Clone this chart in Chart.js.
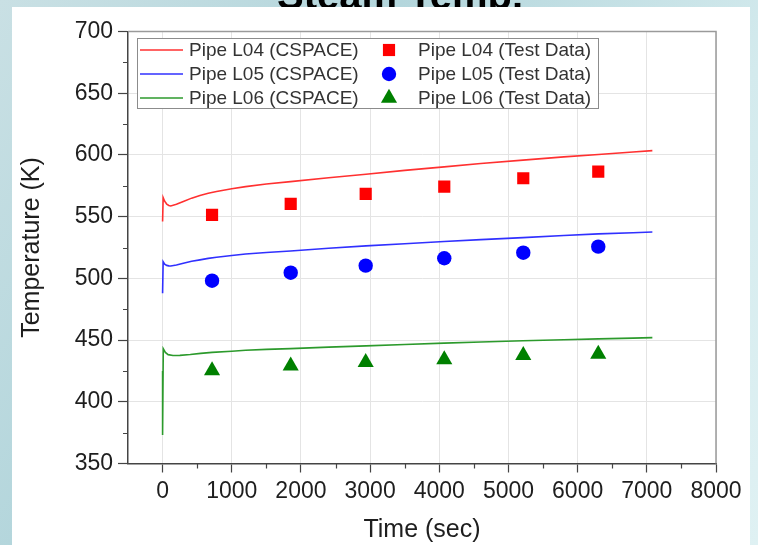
<!DOCTYPE html>
<html>
<head>
<meta charset="utf-8">
<title>Steam Temp.</title>
<script src="https://cdn.jsdelivr.net/npm/chart.js"></script>
<style>
  html, body { margin: 0; padding: 0; background: #cfe6ea; }
  body { width: 758px; height: 545px; overflow: hidden; }
  canvas { display: block; }
</style>
</head>
<body>
<canvas id="steamChart" width="758" height="545"></canvas>
<script>
// CSPACE results (time in s, temperature in K)
const curveTime = [0, 8, 30, 60, 90, 118, 200, 300, 420, 540, 660, 780, 1000, 1200, 1500, 1850, 2400, 2940, 3500, 4070, 4600, 5210, 5800, 6300, 6800, 7080];
const l04Temp = [546, 565.5, 562.5, 560.2, 559.1, 558.7, 560, 562.3, 565, 567.2, 569, 570.4, 572.6, 574.3, 576.5, 578.4, 581.5, 584.4, 587.5, 590.3, 593, 595.8, 598.4, 600.4, 602.4, 603.5];
const l05Temp = [488, 513.5, 511.5, 510.5, 510.1, 510, 510.8, 512.2, 513.8, 515, 516.2, 517.1, 518.5, 519.7, 521, 522.2, 524.4, 526.3, 528.1, 529.8, 531.4, 533, 534.7, 536, 537, 537.5];

const l06Time = [0, 0, 10, 40, 80, 150, 250, 400, 550, 715, 1000, 1200, 1500, 1850, 2400, 2940, 3500, 4070, 4600, 5210, 5800, 6300, 6800, 7080];
const l06Temp = [425, 373, 443, 440, 438.2, 437.5, 437.6, 438.3, 439.2, 440, 441, 441.8, 442.5, 443.1, 444.3, 445.3, 446.4, 447.5, 448.4, 449.4, 450.3, 451, 451.6, 452];

// test data
const testTime = [715, 1852, 2936, 4072, 5214, 6298];
const l04Test = [551.4, 560.3, 568.4, 574.3, 581.1, 586.5];
const l05Test = [498.1, 504.6, 510.3, 516.3, 520.8, 525.7];
const l06Test = [425.3, 429.2, 432, 434.2, 437.7, 438.6];

// ticks
const xTicks = [0, 1000, 2000, 3000, 4000, 5000, 6000, 7000, 8000];
const xMinor = [500, 1500, 2500, 3500, 4500, 5500, 6500, 7500];
const yMinor = [375, 425, 475, 525, 575, 625, 675];

const FONT = '"Liberation Sans", Arial, sans-serif';
const TEXT = '#1e1e1e';

function pts(xs, ys) {
    return xs.map((x, i) => ({ x: x, y: ys[i] }));
}

/* ---------- slide background + white panel ---------- */
const slideBackground = {
    id: 'slideBackground',
    beforeDraw(chart) {
        const ctx = chart.ctx;
        ctx.save();
        const g = ctx.createLinearGradient(0, 0, chart.width, chart.height);
        g.addColorStop(0, '#c9e0e4');
        g.addColorStop(0.35, '#b4d6dc');
        g.addColorStop(0.7, '#d3eaed');
        g.addColorStop(1, '#dff1f3');
        ctx.fillStyle = g;
        ctx.fillRect(0, 0, chart.width, chart.height);

        // slide title, mostly hidden behind the panel
        ctx.fillStyle = '#000';
        ctx.font = 'bold 40px ' + FONT;
        ctx.textAlign = 'center';
        ctx.textBaseline = 'alphabetic';
        ctx.fillText('Steam Temp.', 400, 9);

        ctx.fillStyle = '#ffffff';
        ctx.fillRect(12, 7, 738, chart.height - 7);
        ctx.restore();
    }
};

/* ---------- frame + minor ticks ---------- */
const frameAndMinor = {
    id: 'frameAndMinor',
    afterDraw(chart) {
        const ctx = chart.ctx;
        const ca = chart.chartArea;
        const xs = chart.scales.x;
        const ys = chart.scales.y;
        ctx.save();

        ctx.strokeStyle = '#9a9a9a';
        ctx.lineWidth = 1.5;
        ctx.beginPath();
        ctx.moveTo(ca.left, ca.top);
        ctx.lineTo(ca.right, ca.top);
        ctx.lineTo(ca.right, ca.bottom);
        ctx.stroke();

        ctx.strokeStyle = '#444';
        ctx.lineWidth = 1.2;
        ctx.beginPath();
        xMinor.forEach(v => {
            const px = Math.round(xs.getPixelForValue(v)) + 0.5;
            ctx.moveTo(px, ca.bottom);
            ctx.lineTo(px, ca.bottom + 5);
        });
        yMinor.forEach(v => {
            const py = Math.round(ys.getPixelForValue(v)) + 0.5;
            ctx.moveTo(ca.left, py);
            ctx.lineTo(ca.left - 5, py);
        });
        ctx.stroke();
        ctx.restore();
    }
};

/* ---------- boxed legend inside plot ---------- */
function drawMarker(ctx, style, r, x, y) {
    if (Chart.helpers && Chart.helpers.drawPoint) {
        Chart.helpers.drawPoint(ctx, { pointStyle: style, radius: r, rotation: 0, borderWidth: 0 }, x, y);
        return;
    }
    ctx.beginPath();
    if (style === 'rect') {
        const s = r * Math.SQRT1_2;
        ctx.rect(x - s, y - s, 2 * s, 2 * s);
    } else if (style === 'triangle') {
        ctx.moveTo(x, y - r);
        ctx.lineTo(x + r * 0.866, y + r / 2);
        ctx.lineTo(x - r * 0.866, y + r / 2);
        ctx.closePath();
    } else {
        ctx.arc(x, y, r, 0, Math.PI * 2);
    }
    ctx.fill();
}

const boxLegend = {
    id: 'boxLegend',
    afterDraw(chart) {
        const ctx = chart.ctx;
        const ca = chart.chartArea;
        const left = ca.left + 9;
        const top = ca.top + 6.5;
        const ds = chart.data.datasets;

        ctx.save();
        ctx.fillStyle = '#ffffff';
        ctx.fillRect(left, top, 461, 70);
        ctx.strokeStyle = '#8c8c8c';
        ctx.lineWidth = 1;
        ctx.strokeRect(Math.round(left) + 0.5, Math.round(top) + 0.5, 461, 70);

        ctx.font = '19px ' + FONT;
        ctx.textBaseline = 'middle';
        ctx.textAlign = 'left';

        for (let row = 0; row < 3; row++) {
            const y = top + 12 + row * 24;
            const line = ds[row];
            const mark = ds[row + 3];

            ctx.strokeStyle = line.borderColor;
            ctx.lineWidth = line.borderWidth;
            ctx.beginPath();
            ctx.moveTo(left + 3, y);
            ctx.lineTo(left + 46, y);
            ctx.stroke();
            ctx.fillStyle = '#333';
            ctx.fillText(line.label, left + 52, y + 1);

            ctx.fillStyle = mark.backgroundColor;
            drawMarker(ctx, mark.pointStyle, mark.pointRadius, left + 252, y);
            ctx.fillStyle = '#333';
            ctx.fillText(mark.label, left + 281, y + 1);
        }
        ctx.restore();
    }
};

const lineDs = (label, data, color) => ({
    label: label,
    data: data,
    borderColor: color,
    borderWidth: 1.6,
    pointRadius: 0,
    tension: 0,
    fill: false,
    order: 2
});

const markDs = (label, data, color, style, r) => ({
    label: label,
    data: data,
    showLine: false,
    backgroundColor: color,
    borderColor: color,
    borderWidth: 0,
    pointStyle: style,
    pointRadius: r,
    order: 1
});

new Chart(document.getElementById('steamChart').getContext('2d'), {
    type: 'line',
    data: {
        datasets: [
            lineDs('Pipe L04 (CSPACE)', pts(curveTime, l04Temp), '#ff3030'),
            lineDs('Pipe L05 (CSPACE)', pts(curveTime, l05Temp), '#3030ff'),
            lineDs('Pipe L06 (CSPACE)', pts(l06Time, l06Temp), '#2c9a2c'),
            markDs('Pipe L04 (Test Data)', pts(testTime, l04Test), '#ff0000', 'rect', 8.6),
            markDs('Pipe L05 (Test Data)', pts(testTime, l05Test), '#0000ff', 'circle', 7.2),
            markDs('Pipe L06 (Test Data)', pts(testTime, l06Test), '#008000', 'triangle', 9.3)
        ]
    },
    options: {
        responsive: false,
        animation: false,
        events: [],
        layout: { padding: { left: 0, top: 31.5, right: 42, bottom: 0 } },
        plugins: {
            legend: { display: false },
            tooltip: { enabled: false },
            title: { display: false }
        },
        scales: {
            x: {
                type: 'linear',
                min: -500,
                max: 8000,
                afterBuildTicks: (scale) => { scale.ticks = xTicks.map(v => ({ value: v })); },
                afterFit: (scale) => { scale.height = 81.5; },
                grid: { color: '#e4e4e4', lineWidth: 1, drawTicks: true, tickLength: 9, tickColor: '#444', tickWidth: 1.2 },
                border: { color: '#444', width: 1.5 },
                ticks: {
                    color: TEXT, font: { family: FONT, size: 23 }, padding: 5, maxRotation: 0, autoSkip: false,
                    callback: (v) => String(v)
                },
                title: { display: true, text: 'Time (sec)', color: TEXT, font: { family: FONT, size: 25 }, padding: { top: 0, bottom: 0 } }
            },
            y: {
                min: 350,
                max: 700,
                afterFit: (scale) => { scale.width = 128; },
                grid: { color: '#e4e4e4', lineWidth: 1, drawTicks: true, tickLength: 10, tickColor: '#444', tickWidth: 1.2 },
                border: { color: '#444', width: 1.5 },
                ticks: { stepSize: 50, color: TEXT, font: { family: FONT, size: 23 }, padding: 5, callback: (v) => String(v) },
                title: { display: true, text: 'Temperature (K)', color: TEXT, font: { family: FONT, size: 25 }, padding: { top: 17, bottom: 0 } }
            }
        }
    },
    plugins: [slideBackground, frameAndMinor, boxLegend]
});
</script>
</body>
</html>
